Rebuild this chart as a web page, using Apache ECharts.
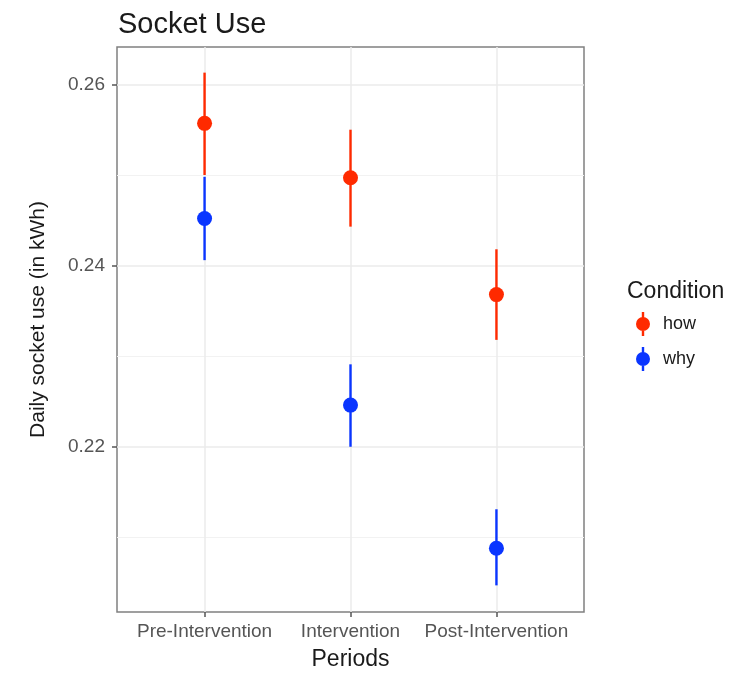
<!DOCTYPE html>
<html>
<head>
<meta charset="utf-8">
<script src="https://cdn.jsdelivr.net/npm/echarts@6/dist/echarts.min.js"></script>
<style>html,body{margin:0;padding:0;background:#fff}#c{width:738px;height:673px}</style>
</head>
<body>
<div id="c"></div>
<script>
const periods = ['Pre-Intervention', 'Intervention', 'Post-Intervention'];
const howMean = [0.2557, 0.2497, 0.2368];
const howLow  = [0.2500, 0.2443, 0.2318];
const howHigh = [0.2613, 0.2550, 0.2418];
const whyMean = [0.2452, 0.2246, 0.2088];
const whyLow  = [0.2406, 0.2200, 0.2047];
const whyHigh = [0.2498, 0.2291, 0.2131];
const yMajor = [0.22, 0.24, 0.26];
const yMinor = [0.21, 0.23, 0.25];
const yMin = 0.20176, yMax = 0.26413;

const RED = '#ff2a00', BLUE = '#0a35ff';
const font = 'Liberation Sans, Arial, sans-serif';
const icon = 'path://M-7,0A7,7 0 1,1 7,0A7,7 0 1,1 -7,0Z M-1.2,-12L1.2,-12L1.2,12L-1.2,12Z';

function pts(mean) { return mean.map((v, i) => [i, v]); }
function bars(low, high) { return low.map((v, i) => [i, v, high[i]]); }
function renderBar(params, api) {
  const x = api.value(0);
  const a = api.coord([x, api.value(1)]);
  const b = api.coord([x, api.value(2)]);
  return { type: 'line', shape: { x1: a[0], y1: a[1], x2: b[0], y2: b[1] },
    style: { stroke: api.visual('color'), lineWidth: 2.4 } };
}

const chart = echarts.init(document.getElementById('c'));
chart.setOption({
  animation: false,
  backgroundColor: '#fff',
  title: [
    { text: 'Socket Use', left: 113, top: 5, textStyle: { fontFamily: font, fontSize: 29, fontWeight: 'normal', color: '#1a1a1a' } },
    { text: 'Condition', left: 622, top: 275, textStyle: { fontFamily: font, fontSize: 23, fontWeight: 'normal', color: '#1a1a1a' } }
  ],
  legend: {
    orient: 'vertical', left: 631, top: 307, itemGap: 11, itemWidth: 14, itemHeight: 24,
    textStyle: { fontFamily: font, fontSize: 18, color: '#1a1a1a', padding: [0, 0, 0, 8] },
    selectedMode: false,
    data: [{ name: 'how', icon: icon }, { name: 'why', icon: icon }]
  },
  grid: { left: 117, top: 47, right: 154, bottom: 61, show: true, borderColor: '#808080', borderWidth: 1.5, outerBoundsMode: 'none', containLabel: false },
  xAxis: {
    type: 'value', min: -0.6, max: 2.6,
    name: 'Periods', nameLocation: 'middle', nameGap: 36,
    nameTextStyle: { fontFamily: font, fontSize: 23, color: '#1a1a1a' },
    axisLine: { show: false, onZero: false },
    axisTick: { show: true, length: 5, lineStyle: { color: '#555', width: 1.5 }, customValues: [0, 1, 2] },
    axisLabel: { customValues: [0, 1, 2], margin: 10, fontFamily: font, fontSize: 19, color: '#555',
      formatter: v => periods[Math.round(v)] },
    splitLine: { show: true, lineStyle: { color: '#ebebeb', width: 1.5 } }
  },
  yAxis: [
    {
      type: 'value', min: yMin, max: yMax,
      name: 'Daily socket use (in kWh)', nameLocation: 'middle', nameGap: 68,
      nameTextStyle: { fontFamily: font, fontSize: 21, color: '#1a1a1a', padding: [0, 0, 0, 20] },
      axisLine: { show: false, onZero: false },
      axisTick: { show: true, length: 5, lineStyle: { color: '#555', width: 1.5 }, customValues: yMajor },
      axisLabel: { customValues: yMajor, margin: 12, fontFamily: font, fontSize: 19, color: '#555',
        formatter: v => v.toFixed(2) },
      splitLine: { show: true, lineStyle: { color: '#ebebeb', width: 1.5 } }
    },
    {
      type: 'value', min: yMin, max: yMax, position: 'left',
      axisLine: { show: false, onZero: false },
      axisTick: { show: false, customValues: yMinor },
      axisLabel: { show: false, customValues: yMinor },
      splitLine: { show: true, lineStyle: { color: '#f2f2f2', width: 1 } }
    }
  ],
  series: [
    { name: 'how', type: 'scatter', data: pts(howMean), symbolSize: 15, itemStyle: { color: RED, opacity: 1 }, z: 4 },
    { name: 'why', type: 'scatter', data: pts(whyMean), symbolSize: 15, itemStyle: { color: BLUE, opacity: 1 }, z: 4 },
    { name: 'how', type: 'custom', data: bars(howLow, howHigh), renderItem: renderBar, itemStyle: { color: RED }, encode: { x: 0, y: [1, 2] }, z: 2 },
    { name: 'why', type: 'custom', data: bars(whyLow, whyHigh), renderItem: renderBar, itemStyle: { color: BLUE }, encode: { x: 0, y: [1, 2] }, z: 3 }
  ]
});
</script>
</body>
</html>
